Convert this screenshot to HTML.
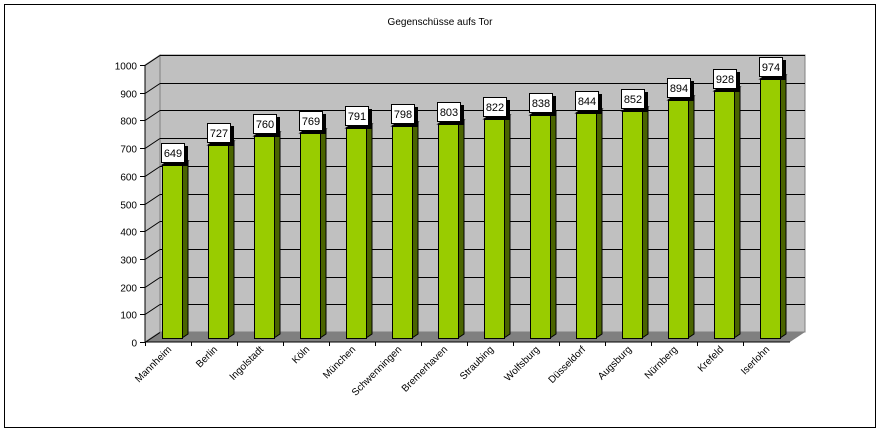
<!DOCTYPE html>
<html><head><meta charset="utf-8"><style>body{margin:0;background:#fff}svg{display:block}text{font-family:"Liberation Sans",sans-serif}</style></head><body>
<svg width="880" height="432" xmlns="http://www.w3.org/2000/svg">
<rect x="4.5" y="4.5" width="871" height="423" fill="#fff" stroke="#000"/>
<text x="440" y="25" font-size="10" text-anchor="middle">Gegenschüsse aufs Tor</text>
<polygon points="160,55 805,55 805,332 160,332" fill="#c0c0c0" stroke="#808080"/>
<polygon points="145,65 160,55 160,332 145,342" fill="#c0c0c0" stroke="#808080"/>
<polygon points="145,342 160,332 805,332 790,342" fill="#808080"/>
<g id="g" stroke="#000" stroke-width="1"></g>
<g id="b"></g>
<line x1="145" y1="65" x2="145" y2="342" stroke="#000"/>
<line x1="145" y1="342" x2="790" y2="342" stroke="#000"/>
<g id="t" font-size="10"></g>
</svg>
<script>
(function(){
var ns="http://www.w3.org/2000/svg";
function el(p,n,a,txt){var e=document.createElementNS(ns,n);for(var k in a)e.setAttribute(k,a[k]);if(txt!=null)e.textContent=txt;p.appendChild(e);return e;}
var g=document.getElementById('g'),b=document.getElementById('b'),t=document.getElementById('t');
for(var v=0;v<=1000;v+=100){var y=Math.round(342-v*0.277)+.5;
 if(v>0)el(g,'line',{x1:160,y1:y-10,x2:805,y2:y-10});
 el(g,'line',{x1:145,y1:y,x2:160,y2:y-10});
 el(g,'line',{x1:140,y1:y,x2:145,y2:y});
 el(t,'text',{x:137,y:y+4,'text-anchor':'end'},v);}
var names=["Mannheim","Berlin","Ingolstadt","Köln","München","Schwenningen","Bremerhaven","Straubing","Wolfsburg","Düsseldorf","Augsburg","Nürnberg","Krefeld","Iserlohn"];
var vals=[649,727,760,769,791,798,803,822,838,844,852,894,928,974];
for(var i=0;i<14;i++){var x=162+46*i,tp=Math.round(338-vals[i]*0.266);
 el(g,'line',{x1:145+46*i+.5,y1:342,x2:145+46*i+.5,y2:346});
 el(b,'polygon',{points:(x+20)+','+tp+' '+(x+26)+','+(tp-4)+' '+(x+26)+','+(334)+' '+(x+20)+','+338,fill:'#4a6400',stroke:'#000','stroke-width':1});
 el(b,'polygon',{points:x+','+tp+' '+(x+6)+','+(tp-4)+' '+(x+26)+','+(tp-4)+' '+(x+20)+','+tp,fill:'#7aa000',stroke:'#000','stroke-width':1});
 el(b,'rect',{x:x+.5,y:tp+.5,width:20,height:338-tp,fill:'#99cc00',stroke:'#000'});
 var bx=x-1,by=tp-22;
 el(b,'rect',{x:bx+3,y:by+3,width:24,height:20,fill:'#000'});
 el(b,'rect',{x:bx+.5,y:by+.5,width:23,height:19,fill:'#fff',stroke:'#000'});
 el(b,'text',{x:bx+12,y:by+14,'text-anchor':'middle','font-size':11},vals[i]);
 var lx=x+10,ly=350;
 el(t,'text',{x:lx,y:ly,'text-anchor':'end',transform:'rotate(-45 '+lx+' '+ly+')'},names[i]);}
})();
</script>
</body></html>
